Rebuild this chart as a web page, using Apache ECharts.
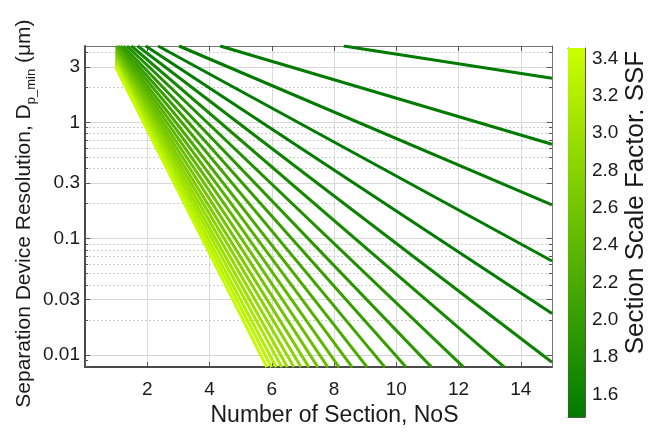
<!DOCTYPE html>
<html>
<head>
<meta charset="utf-8">
<script src="https://cdn.jsdelivr.net/npm/echarts@6/dist/echarts.min.js"></script>
<style>
html,body{margin:0;padding:0;background:#fff;}
#chart{width:650px;height:432px;}
</style>
</head>
<body>
<div id="chart"></div>
<script>
// ---- data ----
const ssf      = [1.1, 1.2, 1.3, 1.4, 1.5, 1.6, 1.7, 1.8, 1.9, 2.0, 2.1, 2.2, 2.3, 2.4, 2.5, 2.6, 2.7, 2.8, 2.9, 3.0, 3.1, 3.2, 3.3, 3.4];
const startNoS = [8.31, 4.34, 3.02, 2.35, 1.95, 1.69, 1.49, 1.35, 1.23, 1.14, 1.07, 1.0, 1, 1, 1, 1, 1, 1, 1, 1, 1, 1, 1, 1];
const startD   = [4.53, 4.53, 4.53, 4.53, 4.53, 4.53, 4.53, 4.53, 4.53, 4.53, 4.53, 4.53, 4.35, 4.17, 4.0, 3.85, 3.70, 3.57, 3.45, 3.33, 3.23, 3.13, 3.03, 2.94];
const endNoS   = [15, 15, 15, 15, 15, 15, 13.47, 12.16, 11.13, 10.31, 9.63, 9.06, 8.58, 8.16, 7.80, 7.48, 7.19, 6.94, 6.71, 6.50, 6.32, 6.14, 5.99, 5.84];
const endD     = [2.39, 0.649, 0.195, 0.0643, 0.0228, 0.00867, 0.00788, 0.00788, 0.00788, 0.00788, 0.00788, 0.00788, 0.00788, 0.00788, 0.00788, 0.00788, 0.00788, 0.00788, 0.00788, 0.00788, 0.00788, 0.00788, 0.00788, 0.00788];

const xRange = [0, 15];
const yRange = [0.00788, 4.53];
const yMajor = [0.01, 0.03, 0.1, 0.3, 1, 3];
const yMajorLabels = ['0.01', '0.03', '0.1', '0.3', '1', '3'];
const yMinor = [0.008, 0.009, 0.02, 0.04, 0.05, 0.06, 0.07, 0.08, 0.09, 0.2, 0.4, 0.5, 0.6, 0.7, 0.8, 0.9, 2, 4];

const cbRange = [1.48, 3.455];
const cbTicks = [1.6, 1.8, 2.0, 2.2, 2.4, 2.6, 2.8, 3.0, 3.2, 3.4];
const cbColors = ['#007a00', '#ccff00'];

// ---- helpers ----
function hex2rgb(h){return [parseInt(h.substr(1,2),16),parseInt(h.substr(3,2),16),parseInt(h.substr(5,2),16)];}
function colorOf(v){
  let t = (v - cbRange[0]) / (cbRange[1] - cbRange[0]);
  t = Math.max(0, Math.min(1, t));
  const a = hex2rgb(cbColors[0]), b = hex2rgb(cbColors[1]);
  const c = a.map((x,i)=>Math.round(x + (b[i]-x)*t));
  return 'rgb(' + c.join(',') + ')';
}
const FONT = 'Liberation Sans, Arial, sans-serif';
const TXT = '#1a1a1a';

const chart = echarts.init(document.getElementById('chart'), null, {renderer:'canvas'});

const series = [];

// gridlines, labels and ticks of the log y axis
const gridData = [];
yMajor.forEach((v,i)=>{
  gridData.push({yAxis: v, lineStyle:{color:'#d8d8d8', type:'solid', width:1},
    label:{show:true, position:'start', formatter: yMajorLabels[i], fontSize:19, color:TXT, fontFamily:FONT, distance:5}});
});
yMinor.forEach(v=>{
  gridData.push({yAxis: v, lineStyle:{color:'#cccccc', type:[2,2], width:1}, label:{show:false}});
});
const tickData = [];
yMajor.forEach(v=>{
  tickData.push([{coord:[xRange[0], v]}, {coord:[xRange[0]+0.17, v]}]);
  tickData.push([{coord:[xRange[1], v]}, {coord:[xRange[1]-0.17, v]}]);
});
yMinor.forEach(v=>{
  tickData.push([{coord:[xRange[0], v]}, {coord:[xRange[0]+0.1, v]}]);
  tickData.push([{coord:[xRange[1], v]}, {coord:[xRange[1]-0.1, v]}]);
});
series.push({
  type:'line', xAxisIndex:0, yAxisIndex:0, data:[], z:1, silent:true,
  markLine:{silent:true, symbol:'none', animation:false, z:1, data: gridData}
});
series.push({
  type:'line', xAxisIndex:0, yAxisIndex:0, data:[], z:4, silent:true,
  markLine:{silent:true, symbol:'none', animation:false, z:4, label:{show:false},
    lineStyle:{color:'#555', width:1, type:'solid'}, data: tickData}
});

ssf.forEach((s,i)=>{
  series.push({
    type:'line', xAxisIndex:0, yAxisIndex:0, z:3,
    name:'SSF ' + s,
    data:[[startNoS[i], startD[i]], [endNoS[i], endD[i]]],
    showSymbol:false, symbol:'none', clip:true,
    lineStyle:{width:3, color: colorOf(s)}
  });
});

// colour bar
series.push({
  type:'custom', xAxisIndex:2, yAxisIndex:2, silent:true, z:2,
  data:[[0, cbRange[0], 1, cbRange[1]]],
  renderItem: function(params, api){
    const p0 = api.coord([api.value(0), api.value(1)]);
    const p1 = api.coord([api.value(2), api.value(3)]);
    return {
      type:'rect',
      shape:{x:p0[0], y:p1[1], width:p1[0]-p0[0], height:p0[1]-p1[1]},
      style:{fill: new echarts.graphic.LinearGradient(0,1,0,0,[
        {offset:0, color:cbColors[0]},{offset:1, color:cbColors[1]}])}
    };
  }
});

const option = {
  backgroundColor:'#fff',
  animation:false,
  grid:[
    {left:85, top:46, width:467, height:329},
    {left:568, top:48, width:25, height:369}
  ],
  xAxis:[
    {type:'value', gridIndex:0, min:xRange[0], max:xRange[1], interval:2, position:'bottom',
     axisLine:{show:true, onZero:false, lineStyle:{color:'#4a4a4a', width:2}},
     axisTick:{show:true, inside:true, length:5, lineStyle:{color:'#555'}},
     axisLabel:{fontSize:19, color:TXT, fontFamily:FONT, margin:13, showMaxLabel:false,
       formatter: v => v === 0 ? '' : String(v)},
     splitLine:{show:true, lineStyle:{color:'#dadada', width:1}},
     name:'Number of Section, NoS', nameLocation:'middle', nameGap:36,
     nameTextStyle:{fontSize:23, color:TXT, fontFamily:FONT, padding:[0,0,0,32]}
    },
    {type:'value', gridIndex:0, min:xRange[0], max:xRange[1], interval:2, position:'top',
     axisLine:{show:true, onZero:false, lineStyle:{color:'#777', width:1}},
     axisTick:{show:true, inside:true, length:5, lineStyle:{color:'#555'}},
     axisLabel:{show:false}, splitLine:{show:false}},
    {type:'value', gridIndex:1, min:0, max:1, position:'bottom',
     axisLine:{show:true, onZero:false, lineStyle:{color:'#555', width:1}},
     axisTick:{show:false}, axisLabel:{show:false}, splitLine:{show:false}},
    {type:'value', gridIndex:1, min:0, max:1, position:'top',
     axisLine:{show:true, onZero:false, lineStyle:{color:'#555', width:1}},
     axisTick:{show:false}, axisLabel:{show:false}, splitLine:{show:false}}
  ],
  yAxis:[
    {type:'log', logBase:10, gridIndex:0, min:yRange[0], max:yRange[1], position:'left',
     axisLine:{show:true, onZero:false, lineStyle:{color:'#4a4a4a', width:2}},
     axisTick:{show:false}, axisLabel:{show:false}, splitLine:{show:false}, minorTick:{show:false},
     name:'{a|Separation Device Resolution, D}{s|p_min}{a| (\u03bcm)}',
     nameLocation:'middle', nameRotate:90, nameGap:47,
     nameTextStyle:{color:TXT, fontFamily:FONT, padding:[0,14,0,0],
       rich:{a:{fontSize:21, color:TXT, fontFamily:FONT},
             s:{fontSize:13, color:TXT, fontFamily:FONT, verticalAlign:'bottom', lineHeight:28}}}
    },
    {type:'log', logBase:10, gridIndex:0, min:yRange[0], max:yRange[1], position:'right',
     axisLine:{show:true, onZero:false, lineStyle:{color:'#777', width:1}},
     axisTick:{show:false}, axisLabel:{show:false}, splitLine:{show:false}},
    {type:'value', gridIndex:1, min:cbRange[0], max:cbRange[1], position:'right',
     axisLine:{show:true, onZero:false, lineStyle:{color:'#555', width:1}},
     axisTick:{show:true, inside:true, length:4, customValues:cbTicks, lineStyle:{color:'#333'}},
     axisLabel:{show:true, customValues:cbTicks, fontSize:19, color:TXT, fontFamily:FONT, margin:7,
       formatter: v => v.toFixed(1)},
     splitLine:{show:false},
     name:'Section Scale Factor. SSF', nameLocation:'middle', nameRotate:90, nameGap:38,
     nameTextStyle:{fontSize:26, color:TXT, fontFamily:FONT, padding:[0,0,0,60]}
    },
    {type:'value', gridIndex:1, min:cbRange[0], max:cbRange[1], position:'left',
     axisLine:{show:true, onZero:false, lineStyle:{color:'#555', width:1}},
     axisTick:{show:true, inside:true, length:4, customValues:cbTicks, lineStyle:{color:'#333'}},
     axisLabel:{show:false}, splitLine:{show:false}}
  ],
  series: series
};
chart.setOption(option);
</script>
</body>
</html>
